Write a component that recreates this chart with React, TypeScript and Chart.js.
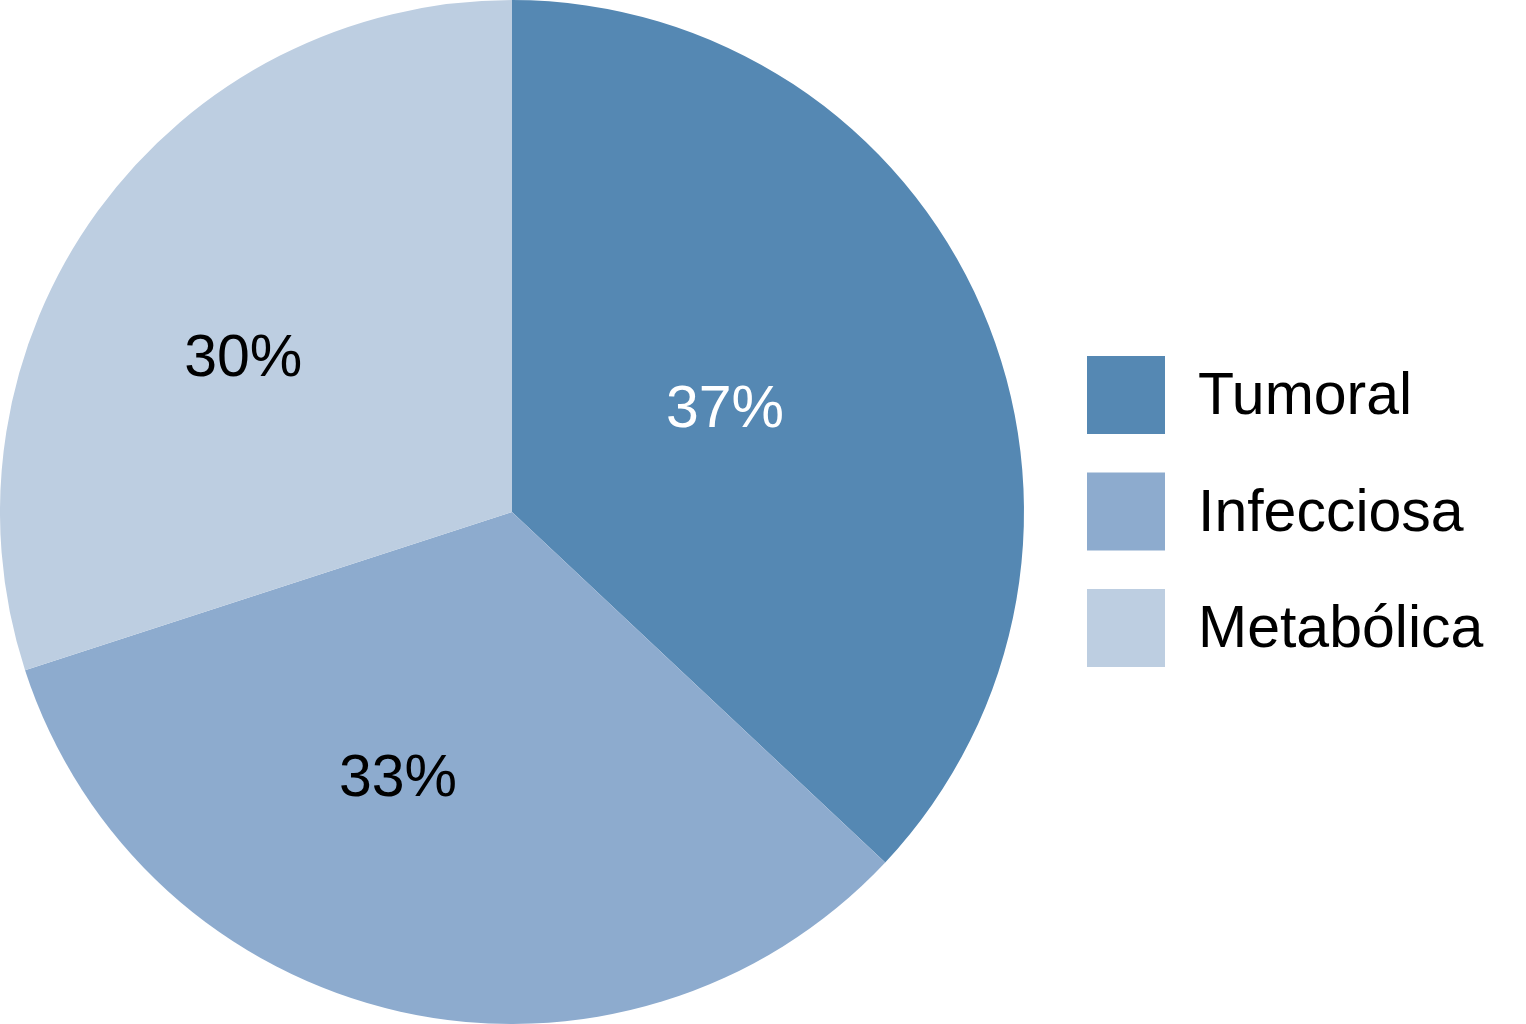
import React, { useEffect, useRef } from "react";
import { Chart, registerables } from "chart.js";

Chart.register(...registerables);

const categories = ["Tumoral", "Infecciosa", "Metabólica"];
const values = [37, 33, 30];
const percentLabels = ["37%", "33%", "30%"];
const sliceColors = ["#5588B3", "#8DABCE", "#BDCEE1"];
const labelColors = ["#FFFFFF", "#000000", "#000000"];
// label placement relative to each slice: angle shift (deg) and radius fraction
const labelPlacement = [
  { shift: -2.4, frac: 0.462 },
  { shift: 10.6, frac: 0.565 },
  { shift: -6.2, frac: 0.605 },
];

const FONT = "Arial, 'Liberation Sans', sans-serif";

const labelPlugin = {
  id: "sliceLabels",
  afterDatasetsDraw(chart: any) {
    const ctx = chart.ctx;
    const meta = chart.getDatasetMeta(0);
    ctx.save();
    ctx.font = `59px ${FONT}`;
    ctx.textAlign = "center";
    ctx.textBaseline = "middle";
    meta.data.forEach((arc: any, i: number) => {
      const p = arc.getProps(["x", "y", "startAngle", "endAngle", "outerRadius"], true);
      const mid = (p.startAngle + p.endAngle) / 2 + (labelPlacement[i].shift * Math.PI) / 180;
      const r = p.outerRadius * labelPlacement[i].frac;
      ctx.fillStyle = labelColors[i];
      ctx.fillText(percentLabels[i], p.x + Math.cos(mid) * r, p.y + Math.sin(mid) * r + 2);
    });
    ctx.restore();
  },
};

const legendPlugin = {
  id: "customLegend",
  afterDraw(chart: any) {
    const ctx = chart.ctx;
    ctx.save();
    ctx.font = `59px ${FONT}`;
    ctx.textBaseline = "middle";
    ctx.textAlign = "left";
    const boxX = 1087;
    const box = 78;
    const top = 356;
    const step = 116.5;
    categories.forEach((c, i) => {
      const y = top + i * step;
      ctx.fillStyle = sliceColors[i];
      ctx.fillRect(boxX, y, box, box);
      ctx.fillStyle = "#000000";
      ctx.fillText(c, 1198, y + box / 2 + 3);
    });
    ctx.restore();
  },
};

export default function App() {
  const ref = useRef<HTMLCanvasElement>(null);
  useEffect(() => {
    document.body.style.margin = "0";
    const chart = new Chart(ref.current!, {
      type: "pie",
      data: {
        labels: categories,
        datasets: [
          {
            data: values,
            backgroundColor: sliceColors,
            borderWidth: 0,
          },
        ],
      },
      options: {
        responsive: false,
        animation: false,
        layout: { padding: { left: 0, top: 0, bottom: 0, right: 502 } },
        plugins: {
          legend: { display: false },
          tooltip: { enabled: false },
        },
      },
      plugins: [labelPlugin, legendPlugin],
    });
    return () => chart.destroy();
  }, []);
  return (
    <div style={{ position: "absolute", left: 0, top: 0, width: 1526, height: 1024, background: "#fff" }}>
      <canvas ref={ref} width={1526} height={1024} />
    </div>
  );
}
